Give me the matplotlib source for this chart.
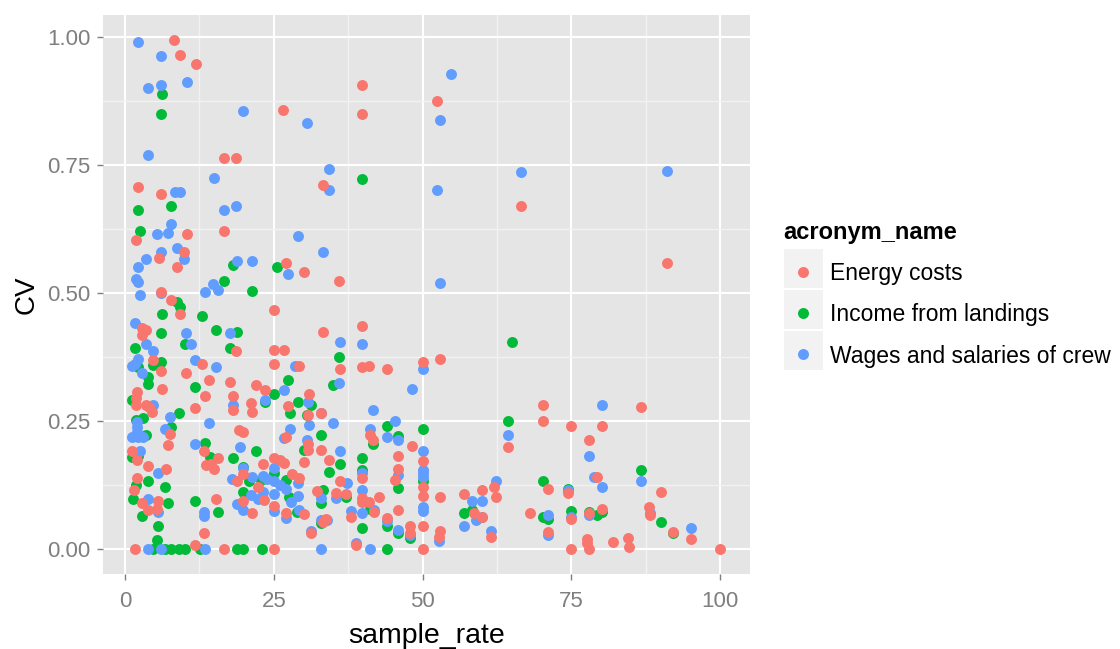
import matplotlib
matplotlib.use("Agg")
import matplotlib.pyplot as plt
from matplotlib.lines import Line2D
from matplotlib.patches import Rectangle

plt.rcParams['font.family'] = ['Liberation Sans', 'DejaVu Sans']

series_names = ["Energy costs", "Income from landings", "Wages and salaries of crew"]
x_ticks = [0, 25, 50, 75, 100]
y_ticks = [0.0, 0.25, 0.5, 0.75, 1.0]
y_labels = ["0.00", "0.25", "0.50", "0.75", "1.00"]

energy_pts = [
 (8.3,.994),(9.3,.965),(12.0,.948),(26.5,.858),(16.6,.764),(18.6,.764),(2.1,.708),(6,.694),(33.2,.711),(16.6,.622),
 (10.5,.615),(1.8,.604),(9.9,.580),(5.7,.569),(8.7,.551),(27.1,.559),(30.1,.542),(6,.502),
 (25,.467),(7.8,.486),(9.3,.459),(33.2,.423),(2.9,.431),(3.6,.428),(2.9,.418),(18.6,.386),(25,.389),(26.8,.389),
 (4.7,.369),(6,.348),(13,.362),(10.2,.344),(25,.362),(29.2,.358),(14.1,.330),(17.7,.327),(22,.320),(23.5,.311),
 (6.3,.313),(13.5,.299),(18.1,.299),(31,.303),(2,.307),(1.8,.294),(1.8,.281),(3.5,.281),(4.1,.277),(4.6,.267),
 (11.7,.275),(18.1,.271),(21.1,.286),(21.4,.267),(27.4,.279),(30.7,.262),(33,.265),(7.5,.225),(19.1,.232),(19.9,.229),
 (27.1,.219),(7.2,.204),(1.2,.191),(13.2,.191),(2,.173),(3.9,.163),(6.9,.156),(15.7,.177),(13.6,.164),(14.9,.156),
 (14.4,.167),(25,.177),(26.1,.174),(26.8,.168),(23.2,.166),(30.1,.170),(30.7,.205),(30.7,.193),(33,.193),(2,.138),
 (19.8,.146),(18.9,.133),(28.1,.146),(29.2,.138),(1.5,.115),(22.3,.122),(23.4,.096),(19.9,.094),(32.3,.114),(15.3,.097),
 (2.8,.090),(5.6,.094),(3.9,.076),(5.3,.079),(21.4,.070),(25,.084),(27.1,.070),(30.1,.068),(33.2,.053),(31.3,.031),
 (13.2,.031),(1.7,0),(11.7,.007),(16.6,0),(25,0),
 (39.9,.436),(36.2,.351),(39.9,.355),(41,.358),(44.1,.351),(50,.365),(53,.372),(41.1,.223),(41.6,.212),(48.3,.201),
 (34.3,.173),(45.8,.181),(50,.171),(45.8,.156),(39.9,.139),(45.4,.135),(36.2,.133),(35.5,.110),(37.1,.107),(39.9,.099),
 (39.9,.092),(41,.091),(41.9,.073),(42.7,.101),(45.8,.076),(50,.122),(50,.104),(53,.101),(56.9,.107),(60,.115),
 (62,.122),(62.3,.101),(58.6,.071),(60,.063),(38,.063),(44.1,.061),(47.9,.045),(47.9,.031),(50,.045),(53,.035),
 (52.7,.023),(38.9,.008),(50,0),(61.5,.024),(68,.070),(33.8,.059),(64.4,.199),
 (39.9,.907),(39.9,.850),(52.5,.876),(66.5,.670),(35.9,.524),(91.1,.559),
 (70.2,.281),(70.2,.250),(75,.240),(80.2,.240),(86.8,.278),(78,.212),(79.3,.141),(71.1,.118),(74.5,.109),(90,.111),
 (75,.058),(78,.070),(80.2,.079),(88,.083),(88.3,.066),(71.1,.033),(92.1,.034),(95.2,.020),(82,.013),(84.5,.022),
 (84.7,.003),(77.7,.012),(77.7,.019),(78,0),(75,0),(100,0),
]
income_pts = [
 (6.3,.889),(6,.850),(2.1,.663),(7.8,.670),(2.6,.622),(18.2,.555),(25.6,.551),(16.6,.524),(21.3,.503),
 (8.8,.483),(9.3,.473),(6.3,.459),(12.9,.455),(6,.421),(15.3,.428),(18.8,.423),(1.7,.393),(10.1,.400),(17.6,.393),
 (6.1,.366),(4.7,.359),(2.2,.356),(3.9,.335),(3.9,.322),(11.7,.316),(1.1,.292),(25,.303),(27.4,.331),(29.1,.288),
 (23.5,.288),(27.8,.266),(30.6,.262),(31.2,.281),(9,.265),(3,.255),(1.9,.252),(7.7,.239),(3.6,.223),(33,.223),
 (13.5,.208),(1.2,.180),(2.2,.182),(30.1,.193),(14.3,.179),(18.1,.177),(22,.191),(19.8,.161),(25,.149),(3.9,.132),
 (1.9,.125),(6.8,.122),(20.8,.132),(19.8,.112),(22.8,.135),(27,.135),(1.4,.097),(7.3,.090),(11.7,.094),(27.5,.102),
 (15.6,.073),(2.9,.065),(5.6,.044),(5.4,.018),(4.7,0),(6.8,0),(7.8,0),(9.1,0),(10,0),(12.6,0),(18.8,0),(19.9,0),
 (23.1,0),(28.9,.073),(32.9,.089),(33,.050),(33.2,.115),
 (65,.404),(35.9,.376),(35,.320),(44.1,.240),(50,.234),(45.8,.221),(41.6,.206),(39.9,.177),(36.2,.167),(34.3,.150),
 (39.9,.154),(64.4,.250),(45.8,.120),(50,.132),(58.4,.077),(56.9,.070),(39.9,.042),(44.1,.044),(45.8,.031),(47.9,.021),
 (44.1,0),(41.2,.079),(37.1,.102),(39.9,.722),
 (86.8,.154),(70.2,.132),(74.5,.118),(70.2,.063),(71.1,.058),(75,.074),(78,.073),(79.3,.066),(80.2,.073),(90,.052),(92.1,.031),
]
wages_pts = [
 (2.1,.991),(6.0,.962),(10.5,.913),(3.9,.900),(6.0,.907),(19.8,.855),(30.6,.833),(3.9,.770),(15.0,.725),(8.4,.698),
 (9.3,.698),(16.6,.663),(18.6,.670),(7.8,.635),(5.4,.615),(7.2,.618),(29.1,.612),(8.7,.587),(6,.580),(3.5,.566),
 (9.9,.566),(2.1,.551),(18.9,.563),(21.3,.563),(1.8,.528),(2.1,.521),(27.4,.538),(33.3,.580),(14.8,.518),(13.5,.502),
 (15.6,.505),(2.6,.497),(6,.50),
 (1.7,.441),(10.2,.421),(17.7,.421),(11.1,.400),(3.5,.400),(4.7,.387),(2.1,.372),(1.2,.357),(1.7,.361),(2.9,.343),
 (11.7,.369),(15.3,.355),(28.5,.358),(4.7,.281),(23.5,.291),(26.8,.311),(18.1,.281),(30.7,.288),(33,.266),(7.5,.258),
 (14.1,.247),(2,.249),(2,.239),(2,.229),(1.2,.219),(2.2,.219),(3.0,.219),(6.7,.234),(31,.243),(27.8,.234),(26.7,.216),
 (11.7,.205),(19.3,.199),(30.6,.213),(2.5,.191),(5.6,.149),(25,.159),(18,.136),(19.8,.158),(21.4,.141),(23.2,.143),
 (23.9,.136),(25,.132),(26.1,.125),(27.1,.118),(29.1,.128),(21.1,.105),(23.2,.112),(25,.107),(29.1,.104),(22.3,.097),
 (3.9,.097),(27.9,.091),(18.9,.088),(19.9,.076),(29.2,.076),(25,.074),(27.1,.060),(13.2,.073),(13.2,.064),(5.6,.073),
 (33,.099),(33,.057),(31.3,.036),(3.9,0),(6,0),(13.5,0),(33,0),
 (36.2,.404),(39.9,.400),(35.9,.324),(48.3,.313),(50,.351),(41.6,.271),(35,.247),(45.4,.250),(41.1,.234),(44.1,.219),
 (45.8,.212),(36.2,.191),(50,.191),(39.9,.148),(50,.154),(50,.148),(50,.141),(45.8,.144),(37.3,.128),(62.3,.132),
 (39.9,.115),(58.4,.094),(60,.094),(35.5,.099),(38,.074),(39.9,.070),(41.9,.076),(50,.083),(50,.075),(56.9,.045),
 (59,.057),(60,.063),(45.8,.038),(47.9,.028),(52.7,.016),(61.5,.036),(38.9,.011),(41.1,0),(33.9,.057),(44.1,.055),
 (64.4,.223),
 (54.8,.928),(53,.837),(34.3,.743),(34.3,.702),(52.5,.702),(66.5,.737),(53,.520),(91.1,.739),
 (80.2,.281),(78,.181),(78.9,.140),(80.2,.122),(86.8,.132),(74.5,.115),(71.1,.066),(75,.063),(78,.066),(88.3,.070),(95.2,.042),(71.1,.027),
]

W, H = 1120, 649
colors = ["#F8766D", "#00BA38", "#619CFF"]
fig = plt.figure(figsize=(W/100, H/100), dpi=100)
ax = fig.add_axes([103/W, 1-574/H, (750-103)/W, (574-15)/H])
ax.set_facecolor("#E5E5E5")
ax.set_xlim(-3.7, 105.04)
ax.set_ylim(-0.0488, 1.043)
for s in ax.spines.values():
    s.set_visible(False)
ax.set_axisbelow(True)
ax.set_xticks(x_ticks)
ax.set_yticks(y_ticks)
ax.set_yticklabels(y_labels)
ax.set_xticks([12.5, 37.5, 62.5, 87.5], minor=True)
ax.set_yticks([0.125, 0.375, 0.625, 0.875], minor=True)
ax.grid(which="major", color="white", lw=1.5)
ax.grid(which="minor", color="#F2F2F2", lw=1.0)
ax.tick_params(which="minor", length=0)
ax.tick_params(which="major", length=4, width=1, color="#7F7F7F", labelcolor="#7F7F7F", labelsize=16)
ax.tick_params(axis="x", which="major", pad=8.5)
ax.tick_params(axis="y", which="major", pad=5)

for pts, c, z in [(income_pts, colors[1], 3), (wages_pts, colors[2], 4), (energy_pts, colors[0], 5)]:
    ax.scatter([p[0] for p in pts], [p[1] for p in pts], s=62, color=c, linewidths=0, zorder=z, clip_on=True)

ax.set_xlabel("sample_rate", fontsize=20.5, labelpad=8)
ax.set_ylabel("CV", fontsize=20, labelpad=5.5)

for top in (249, 290, 331):
    fig.add_artist(Rectangle((784/W, 1-(top+39)/H), 39/W, 39/H, transform=fig.transFigure,
                             facecolor="#F2F2F2", edgecolor="none", zorder=1))
handles = [Line2D([], [], linestyle="none", marker="o", markersize=7.9, markerfacecolor=c,
                  markeredgewidth=0) for c in colors]
leg = fig.legend(handles, series_names, title="acronym_name", loc="upper left",
                 bbox_to_anchor=(783/W, 1-220.5/H), frameon=False, fontsize=16.5,
                 borderpad=0, borderaxespad=0, labelspacing=0.8, handlelength=1.75,
                 handletextpad=0.3, alignment="left",
                 title_fontproperties={"weight": "bold", "size": 17})
leg.set_zorder(2)
fig.savefig("out.png", dpi=100, facecolor="white")
